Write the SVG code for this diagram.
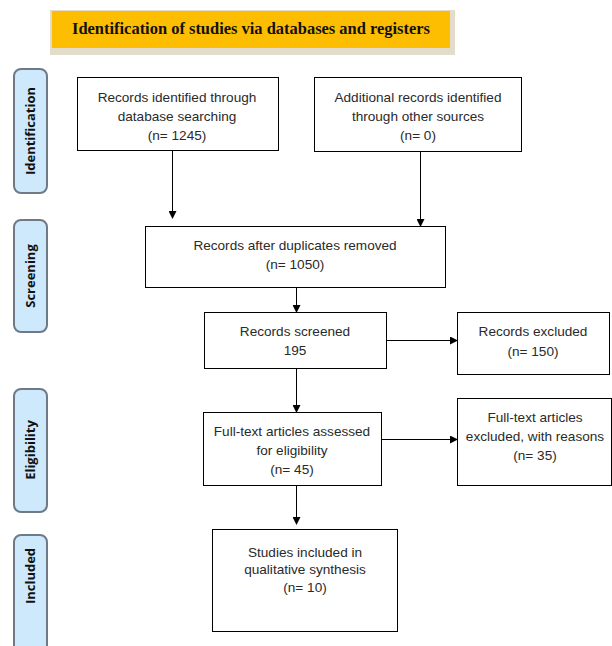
<svg xmlns="http://www.w3.org/2000/svg" width="612" height="646" viewBox="0 0 612 646">
<style>
.box{fill:#fff;stroke:#000;stroke-width:1}
.t{font-family:"Liberation Sans",Arial,sans-serif;font-size:13.6px;fill:#2a2a2a;text-anchor:middle}
.pill{fill:#cde9fb;stroke:#6e7a86;stroke-width:2}
.pt{font-family:"Open Sans","DejaVu Sans",sans-serif;font-weight:bold;font-size:13px;fill:#111;text-anchor:middle}
.c{stroke:#000;stroke-width:1;fill:none;marker-end:url(#ah)}
</style>
<defs>
<marker id="ah" markerWidth="8" markerHeight="8" refX="7" refY="4" orient="auto" markerUnits="userSpaceOnUse">
<path d="M0,0 L8,4 L0,8 Z" fill="#000"/>
</marker>
</defs>
<rect width="612" height="646" fill="#fff"/>
<g id="header">
<rect x="50" y="10" width="405" height="45" fill="#e3dccb"/>
<rect x="52" y="11" width="398" height="37" fill="#fdbd00"/>
<text x="251" y="34" font-family="'Liberation Serif','Times New Roman',serif" font-weight="bold" font-size="17" text-anchor="middle" textLength="358" lengthAdjust="spacingAndGlyphs" fill="#111">Identification of studies via databases and registers</text>
</g>
<g id="phase-identification">
<rect class="pill" x="14" y="69" width="33" height="124" rx="7"/>
<text class="pt" transform="translate(35,131) rotate(-90)">Identification</text>
</g>
<g id="phase-screening">
<rect class="pill" x="14" y="220" width="33" height="112" rx="7"/>
<text class="pt" transform="translate(35,276) rotate(-90)">Screening</text>
</g>
<g id="phase-eligibility">
<rect class="pill" x="14" y="389" width="33" height="123" rx="7"/>
<text class="pt" transform="translate(35,450) rotate(-90)">Eligibility</text>
</g>
<g id="phase-included">
<rect class="pill" x="14" y="535" width="33" height="125" rx="7"/>
<text class="pt" transform="translate(35,576) rotate(-90)">Included</text>
</g>
<g id="n1">
<rect class="box" x="77.5" y="77.5" width="201" height="73"/>
<text class="t" x="177" y="102">Records identified through</text>
<text class="t" x="177" y="121">database searching</text>
<text class="t" x="177" y="140">(n= 1245)</text>
</g>
<g id="n2">
<rect class="box" x="314.5" y="77.5" width="207" height="74"/>
<text class="t" x="418" y="102">Additional records identified</text>
<text class="t" x="418" y="121">through other sources</text>
<text class="t" x="418" y="140">(n= 0)</text>
</g>
<g id="n3">
<rect class="box" x="145.5" y="226.5" width="300" height="61"/>
<text class="t" x="295" y="250">Records after duplicates removed</text>
<text class="t" x="295" y="269">(n= 1050)</text>
</g>
<g id="n4">
<rect class="box" x="204.5" y="312.5" width="182" height="56"/>
<text class="t" x="295" y="336">Records screened</text>
<text class="t" x="295" y="355">195</text>
</g>
<g id="n5">
<rect class="box" x="457.5" y="312.5" width="152" height="62"/>
<text class="t" x="533" y="336">Records excluded</text>
<text class="t" x="533" y="356">(n= 150)</text>
</g>
<g id="n6">
<rect class="box" x="203.5" y="412.5" width="178" height="73"/>
<text class="t" x="292" y="436">Full-text articles assessed</text>
<text class="t" x="292" y="455">for eligibility</text>
<text class="t" x="292" y="474">(n= 45)</text>
</g>
<g id="n7">
<rect class="box" x="457.5" y="398.5" width="154" height="87"/>
<text class="t" x="535" y="422">Full-text articles</text>
<text class="t" x="535" y="441">excluded, with reasons</text>
<text class="t" x="535" y="460">(n= 35)</text>
</g>
<g id="n8">
<rect class="box" x="212.5" y="529.5" width="185" height="102"/>
<text class="t" x="305" y="557">Studies included in</text>
<text class="t" x="305" y="574">qualitative synthesis</text>
<text class="t" x="305" y="592">(n= 10)</text>
</g>
<g id="connectors">
<line class="c" x1="172.5" y1="151" x2="172.5" y2="218"/>
<line class="c" x1="420.5" y1="152" x2="420.5" y2="226"/>
<line class="c" x1="296.5" y1="288" x2="296.5" y2="312"/>
<line class="c" x1="387" y1="340.5" x2="457" y2="340.5"/>
<line class="c" x1="296.5" y1="369" x2="296.5" y2="412"/>
<line class="c" x1="382" y1="439.5" x2="457" y2="439.5"/>
<line class="c" x1="296.5" y1="486" x2="296.5" y2="524"/>
</g>
</svg>
